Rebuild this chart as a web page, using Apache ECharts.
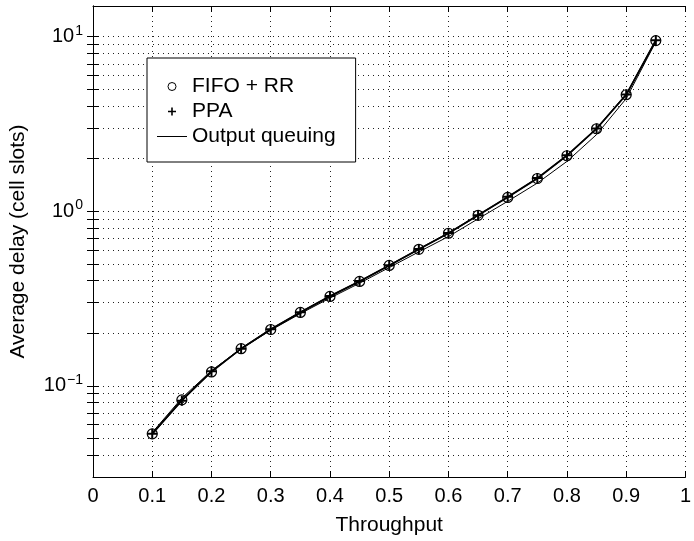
<!DOCTYPE html>
<html>
<head>
<meta charset="utf-8">
<script src="https://cdn.jsdelivr.net/npm/echarts@6/dist/echarts.min.js"></script>
<style>
  html, body { margin: 0; padding: 0; background: #fff; }
  #chart { width: 694px; height: 541px; }
</style>
</head>
<body>
<div id="chart"></div>
<script>
  // data
  const throughput = [0.1, 0.15, 0.2, 0.25, 0.3, 0.35, 0.4, 0.45, 0.5, 0.55, 0.6, 0.65, 0.7, 0.75, 0.8, 0.85, 0.9, 0.95];
  const fifoRR = [0.053, 0.083, 0.120, 0.163, 0.210, 0.263, 0.325, 0.396, 0.489, 0.605, 0.748, 0.948, 1.20, 1.54, 2.08, 2.97, 4.65, 9.5];
  const ppa = [0.053, 0.082, 0.121, 0.163, 0.211, 0.264, 0.327, 0.398, 0.490, 0.607, 0.750, 0.950, 1.21, 1.55, 2.09, 2.98, 4.66, 9.55];
  const outputQueuing = [0.054, 0.085, 0.122, 0.163, 0.208, 0.259, 0.318, 0.387, 0.476, 0.585, 0.716, 0.905, 1.14, 1.45, 1.93, 2.75, 4.42, 9.35];
  const seriesNames = ['FIFO + RR', 'PPA', 'Output queuing'];
  const yDecades = [0.1, 1, 10];
  const yGrid = [0.04, 0.05, 0.06, 0.07, 0.08, 0.09, 0.1, 0.2, 0.3, 0.4, 0.5, 0.6, 0.7, 0.8, 0.9, 1, 2, 3, 4, 5, 6, 7, 8, 9, 10];

  const font = 'Liberation Sans, Arial, Helvetica, sans-serif';
  const zip = (xs, ys) => xs.map((x, i) => [x, ys[i]]);
  const dotted = { color: '#222', width: 1, type: [1, 4] };
  const plusPath = 'path://M4,0h2v10h-2zM0,4h10v2h-10z';

  function decadeLabel(v) {
    const e = Math.round(Math.log10(v));
    return '{b|10}{s|' + (e < 0 ? '\u2212' + (-e) : e) + '}';
  }

  const yCommon = {
    type: 'log',
    logBase: 10,
    min: 0.03,
    max: 15,
    axisLine: { show: true, lineStyle: { color: '#000', width: 1 } },
    axisTick: { show: true, inside: true, length: 6, customValues: yGrid, lineStyle: { color: '#000' } }
  };
  const xCommon = {
    type: 'value',
    min: 0,
    max: 1,
    interval: 0.1,
    axisLine: { show: true, lineStyle: { color: '#000', width: 1 } },
    axisTick: { show: true, inside: true, length: 6, lineStyle: { color: '#000' } }
  };

  const chart = echarts.init(document.getElementById('chart'));
  chart.setOption({
    backgroundColor: '#fff',
    animation: false,
    textStyle: { fontFamily: font },
    grid: { left: 93, right: 4, top: 6, bottom: 64 },
    legend: {
      orient: 'vertical',
      left: 147,
      top: 58,
      padding: [18, 20, 15, 10],
      itemWidth: 30,
      itemHeight: 8,
      itemGap: 4,
      backgroundColor: '#fff',
      borderColor: '#000',
      borderWidth: 1,
      borderRadius: 0,
      textStyle: { fontSize: 21, color: '#000', fontFamily: font },
      data: [
        { name: seriesNames[0], icon: 'circle', itemStyle: { color: 'transparent', borderColor: '#000', borderWidth: 1 } },
        { name: seriesNames[1], icon: plusPath, itemStyle: { color: '#000', borderWidth: 0 } },
        { name: seriesNames[2], icon: 'path://M0,0h30v1h-30z', itemStyle: { color: '#000', borderWidth: 0 } }
      ]
    },
    xAxis: [
      Object.assign({}, xCommon, {
        position: 'bottom',
        name: 'Throughput',
        nameLocation: 'middle',
        nameGap: 38,
        nameTextStyle: { fontSize: 21, color: '#000', fontFamily: font },
        axisLabel: { fontSize: 20, color: '#000', margin: 9, fontFamily: font },
        splitLine: { show: true, lineStyle: dotted }
      }),
      Object.assign({}, xCommon, {
        position: 'top',
        axisLabel: { show: false },
        splitLine: { show: false }
      })
    ],
    yAxis: [
      Object.assign({}, yCommon, {
        position: 'left',
        name: 'Average delay (cell slots)',
        nameLocation: 'middle',
        nameGap: 64,
        nameTextStyle: { fontSize: 21, color: '#000', fontFamily: font },
        axisLabel: {
          customValues: yDecades,
          margin: 10,
          formatter: decadeLabel,
          rich: {
            b: { fontSize: 20, color: '#000', fontFamily: font },
            s: { fontSize: 14, color: '#000', fontFamily: font, padding: [0, 0, 12, 1] }
          }
        },
        splitLine: { show: true, lineStyle: dotted }
      }),
      Object.assign({}, yCommon, {
        position: 'right',
        axisLabel: { show: false },
        splitLine: { show: false }
      })
    ],
    series: [
      {
        name: seriesNames[0],
        type: 'line',
        data: zip(throughput, fifoRR),
        symbol: 'circle',
        symbolSize: 10,
        lineStyle: { color: '#000', width: 1.6 },
        itemStyle: { color: 'transparent', borderColor: '#000', borderWidth: 1.2 },
        z: 3
      },
      {
        name: seriesNames[1],
        type: 'line',
        data: zip(throughput, ppa),
        symbol: plusPath,
        symbolSize: 10,
        lineStyle: { color: '#000', width: 1.5 },
        itemStyle: { color: '#000', borderWidth: 0 },
        z: 4
      },
      {
        name: seriesNames[2],
        type: 'line',
        data: zip(throughput, outputQueuing),
        symbol: 'none',
        lineStyle: { color: '#000', width: 1 },
        itemStyle: { color: '#000' },
        z: 5
      }
    ]
  });
</script>
</body>
</html>
